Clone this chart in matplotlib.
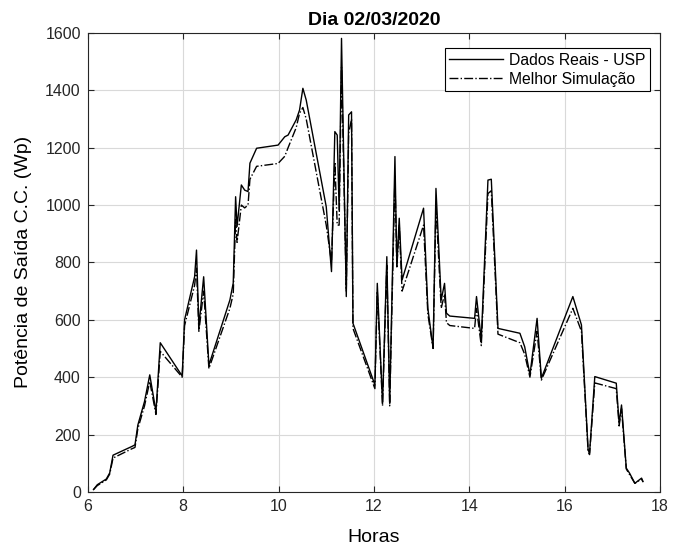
import matplotlib
matplotlib.use("Agg")
import matplotlib.pyplot as plt

plt.rcParams["font.family"] = ["Liberation Sans", "DejaVu Sans"]

# Hours of the day (x) and measured / simulated DC output power (Wp)
horas = [6.12, 6.2, 6.39, 6.46, 6.53, 6.92, 6.99, 7.05, 7.19, 7.30, 7.43, 7.52,
         7.98, 8.03, 8.24, 8.28, 8.33, 8.43, 8.54, 8.98, 9.05, 9.10, 9.13, 9.22,
         9.29, 9.36, 9.40, 9.54, 9.99, 10.13, 10.20, 10.37, 10.44, 10.51, 10.58,
         11.0, 11.11, 11.18, 11.23, 11.27, 11.32, 11.42, 11.47, 11.53, 11.56,
         12.02, 12.07, 12.18, 12.27, 12.33, 12.44, 12.48, 12.53, 12.59, 13.04,
         13.13, 13.24, 13.30, 13.41, 13.48, 13.52, 13.59, 14.11, 14.15, 14.25,
         14.39, 14.46, 14.60, 15.06, 15.16, 15.27, 15.42, 15.51, 16.17, 16.35,
         16.49, 16.52, 16.63, 17.08, 17.14, 17.19, 17.29, 17.36, 17.47, 17.61,
         17.64]

dados_reais = [8, 25, 45, 66, 128, 158, 164, 233, 315, 408, 280, 520,
               404, 600, 750, 843, 576, 750, 442, 669, 728, 1029, 925, 1070,
               1052, 1047, 1146, 1198, 1209, 1238, 1244, 1297, 1331, 1407, 1366,
               994, 768, 1256, 1244, 983, 1581, 681, 1314, 1325, 588,
               373, 727, 309, 820, 309, 1169, 785, 954, 739, 989,
               640, 501, 1058, 669, 727, 623, 613, 605, 681, 530,
               1087, 1090, 570, 553, 506, 408, 605, 396, 681, 582,
               146, 135, 402, 379, 239, 303, 83, 65, 30, 48,
               36]

melhor_sim = [8, 22, 42, 62, 118, 150, 155, 220, 300, 385, 270, 490,
              400, 580, 720, 780, 560, 700, 430, 640, 690, 950, 870, 1000,
              990, 1000, 1090, 1135, 1145, 1170, 1200, 1270, 1320, 1340, 1300,
              930, 800, 1150, 930, 930, 1480, 700, 1250, 1300, 570,
              360, 700, 300, 790, 300, 1100, 780, 930, 700, 930,
              620, 500, 1000, 640, 690, 590, 580, 570, 640, 510,
              1040, 1050, 550, 520, 480, 400, 560, 390, 640, 560,
              140, 130, 380, 360, 230, 290, 80, 60, 30, 45,
              35]

fig = plt.figure(figsize=(6.75, 5.49), dpi=100)
ax = fig.add_axes([0.130, 0.104, 0.848, 0.836])

ax.plot(horas, dados_reais, color="black", linestyle="-", linewidth=1.0,
        label="Dados Reais - USP")
ax.plot(horas, melhor_sim, color="black", linestyle="-.", linewidth=1.0,
        label="Melhor Simulação")

ax.set_xlim(6, 18)
ax.set_ylim(0, 1600)
ax.set_xticks(range(6, 19, 2))
ax.set_yticks(range(0, 1601, 200))

ax.set_title("Dia 02/03/2020", fontsize=14, fontweight="bold", pad=6)
ax.set_xlabel("Horas", fontsize=14, labelpad=11)
ax.set_ylabel("Potência de Saída C.C. (Wp)", fontsize=14, labelpad=9.5)

ax.grid(True, color="#d9d9d9", linewidth=0.8)
ax.set_axisbelow(True)
ax.tick_params(direction="in", top=True, right=True, labelsize=11.5,
               length=4, width=0.8, colors="#262626", pad=5)
for sp in ax.spines.values():
    sp.set_color("#262626")
    sp.set_linewidth(0.8)

leg = ax.legend(loc="upper right", bbox_to_anchor=(0.9825, 0.967),
                fontsize=11.3, fancybox=False, edgecolor="black",
                framealpha=1, borderaxespad=0, handlelength=3.4,
                borderpad=0.3, labelspacing=0.25, handletextpad=0.4)
leg.get_frame().set_linewidth(0.8)

plt.savefig("out.png", dpi=100)
plt.close()
